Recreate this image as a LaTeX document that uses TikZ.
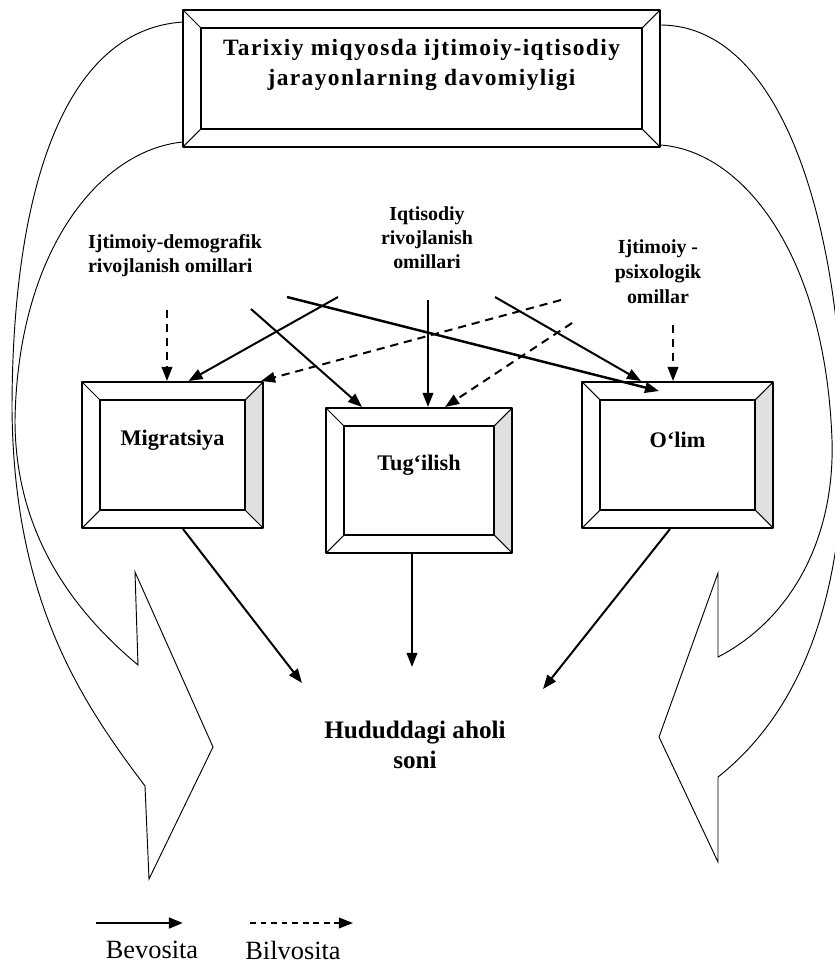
\documentclass[tikz,border=0pt]{standalone}
\usepackage{fontspec}
\setmainfont{Liberation Serif}
\newfontfamily\spacedrm[LetterSpace=6]{Liberation Serif}
\usetikzlibrary{arrows.meta,calc,positioning}

\tikzset{
  bevelbox/.style={draw, line width=1.7pt, inner sep=0pt,
    path picture={
      \path (path picture bounding box.north west) coordinate (pnw)
            (path picture bounding box.north east) coordinate (pne)
            (path picture bounding box.south west) coordinate (psw)
            (path picture bounding box.south east) coordinate (pse);
      \fill[#1] (pne) -- ($(pne)+(-18,18)$) -- ($(pse)+(-18,-18)$) -- (pse) -- cycle;
      \draw[line width=1.3pt] ($(pnw)+(18,18)$) rectangle ($(pse)+(-18,-18)$);
      \draw[line width=0.9pt] (pnw) -- ++(18,18) (pne) -- ++(-18,18)
                              (psw) -- ++(18,-18) (pse) -- ++(-18,-18);
    }},
  bevelbox/.default=white,
  boxtext/.style={font=\fontsize{19}{22}\selectfont\bfseries, inner sep=0pt},
  factor/.style={font=\fontsize{17}{20.5}\selectfont\bfseries, align=center, inner sep=0pt},
  direct/.style={line width=1.7pt, -{Triangle[length=12pt,width=9pt]}},
  indirect/.style={direct, dash pattern=on 7pt off 5pt},
  bigarrow/.style={line width=0.8pt, line join=miter}
}

\begin{document}
\begin{tikzpicture}
    [line cap=butt,line join=round,x=0.03cm,y=-0.03cm]
\useasboundingbox (0,0) rectangle (834,965);

%big curved arrows (drawn first, boxes on top)
 \draw[bigarrow] (183,22) .. controls (60,30) and (12,200) .. (12,410)
    .. controls (14,600) and (80,700) .. (145,786) -- (149,879) -- (213,747)
    -- (135,572) -- (138,665)
    .. controls (60,600) and (15,520) .. (15,420)
    .. controls (18,250) and (100,150) .. (183,142);
 \draw[bigarrow] (660,25) .. controls (790,25) and (846,250) .. (843,460)
    .. controls (840,620) and (790,720) .. (718,777) -- (718,862) -- (659,737)
    -- (718,573) -- (718,657)
    .. controls (790,620) and (835,540) .. (832,440)
    .. controls (825,250) and (740,150) .. (660,145);

%boxes
 \node[bevelbox, fill=white, minimum width=14.31cm, minimum height=4.11cm,
   label={[font=\fontsize{20}{25.6}\selectfont\spacedrm\bfseries, align=center, yshift=0.4cm]center:Tarixiy miqyosda ijtimoiy-iqtisodiy\\jarayonlarning davomiyligi}]
   (tarix) at (421.5,78.5) {};
 \node[bevelbox=black!12, fill=white, minimum width=5.43cm, minimum height=4.38cm,
   label={[boxtext, yshift=0.45cm]center:Migratsiya}] (mig) at (172.5,455) {};
 \node[bevelbox=black!12, fill=white, minimum width=5.58cm, minimum height=4.35cm,
   label={[boxtext, yshift=0.45cm]center:Tug‘ilish}] (tug) at (419,480.5) {};
 \node[bevelbox=black!12, fill=white, minimum width=5.73cm, minimum height=4.38cm,
   label={[boxtext, yshift=0.45cm]center:O‘lim}] (olim) at (677.5,455) {};

%factors
 \node[factor, align=left] (demog) at (175,256) {Ijtimoiy-demografik\\rivojlanish omillari};
 \node[factor] (iqtis) at (427,238) {Iqtisodiy\\rivojlanish\\omillari};
 \node[factor, font=\fontsize{17}{21.3}\selectfont\bfseries] (psix) at (658,272) {Ijtimoiy -\\psixologik\\omillar};

 \node[font=\fontsize{21.5}{25.6}\selectfont\bfseries, align=center, inner sep=0pt] (pop) at (415,745) {Hududdagi aholi\\soni};

%free ends of the connectors
 \coordinate (s1) at (287,297);
 \coordinate (s2) at (338,297);
 \coordinate (s3) at (251,309);
 \coordinate (s4) at (428,300);
 \coordinate (s5) at (495,297);
 \coordinate (s6) at (561,300);
 \coordinate (s7) at (572,323);
 \coordinate (s8) at (167,310);
 \coordinate (s9) at (673,325);
 \coordinate (h1) at ($(pop)+(-113,-62)$);
 \coordinate (h2) at ($(pop)+(-3,-78)$);
 \coordinate (h3) at ($(pop)+(128,-56)$);

%direct and indirect links
 \draw[direct, line width=2.1pt] (s1) -- ($(olim.north west)+(78,10)$);
 \draw[direct] (s2) -- ($(mig.north)+(16,0)$);
 \draw[direct] (s3) -- ($(tug.north west)+(37,0)$);
 \draw[direct] (s4) -- ($(tug.north)+(9,0)$);
 \draw[direct] (s5) -- ($(olim.north west)+(60,0)$);
 \draw[indirect] (s6) -- ($(mig.north east)+(-3,0)$);
 \draw[indirect] (s7) -- ($(tug.north)+(26,0)$);
 \draw[indirect] (s8) -- ($(mig.north)+(-5.5,0)$);
 \draw[indirect] (s9) -- ($(olim.north)+(-4.5,0)$);

 \draw[direct] ($(mig.south)+(10.5,0)$) -- (h1);
 \draw[direct] ($(tug.south)+(-7,0)$) -- (h2);
 \draw[direct] ($(olim.south)+(-7.5,0)$) -- (h3);

%legend
 \node[font=\fontsize{22.5}{26}\selectfont, inner sep=0pt] (bev) at (152,950) {Bevosita};
 \node[font=\fontsize{22.5}{26}\selectfont, inner sep=0pt] (bil) at (293,950) {Bilvosita};
 \coordinate (la) at (96,923);  \coordinate (lb) at (183,923);
 \coordinate (lc) at (250,923); \coordinate (ld) at (353,923);
 \draw[direct, line width=2.4pt] (la) -- (lb);
 \draw[indirect, line width=1.5pt, dash pattern=on 5pt off 4pt] (lc) -- (ld);

\end{tikzpicture}
\end{document}
